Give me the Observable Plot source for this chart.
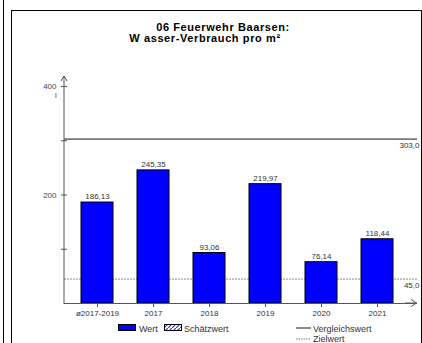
<!DOCTYPE html>
<html><head><meta charset="utf-8">
<script src="https://cdn.jsdelivr.net/npm/d3@7"></script>
<script src="https://cdn.jsdelivr.net/npm/@observablehq/plot@0.6"></script>
<style>
body{margin:0;background:#fff;font-family:"Liberation Sans",Arial,sans-serif;}
svg{display:block}
</style>
</head><body><div id="chart"></div>
<script>
const categories = ["ø2017-2019", "2017", "2018", "2019", "2020", "2021"];
const values = [186.13, 245.35, 93.06, 219.97, 76.14, 118.44];
const valueLabels = ["186,13", "245,35", "93,06", "219,97", "76,14", "118,44"];
const yTicks = [100, 200, 300, 400];
const yTickLabels = ["", "200", "", "400"];
const yUnit = "l";
const comparisonValue = 303.0;
const comparisonLabel = "303,0";
const targetValue = 45.0;
const targetLabel = "45,0";
const titleLines = ["06 Feuerwehr Baarsen:", "W asser-Verbrauch pro m²"];
const legendLabels = ["Wert", "Schätzwert", "Vergleichswert", "Zielwert"];

const data = categories.map((c, i) => ({category: c, value: values[i], label: valueLabels[i]}));
const FONT = "'Liberation Sans', Arial, sans-serif";

const plot = Plot.plot({
  width: 422, height: 343,
  marginLeft: 64, marginRight: 5, marginTop: 76, marginBottom: 40,
  style: {fontFamily: FONT, fontSize: "8px", color: "#333", background: "white", overflow: "visible"},
  x: {type: "band", domain: categories, range: [67, 406], paddingInner: 0.43, paddingOuter: 0.215, align: 0.5, label: null},
  y: {domain: [0, 400], range: [303, 86], label: null},
  marks: [
    Plot.ruleY([targetValue], {stroke: "#8a8a8a", strokeWidth: 1, strokeDasharray: "2,1"}),
    Plot.ruleY([comparisonValue], {stroke: "#777", strokeWidth: 1.6}),
    Plot.barY(data, {x: "category", y: "value", fill: "#0000FF", stroke: "#000", strokeWidth: 1}),
    Plot.text(data, {x: "category", y: "value", text: "label", dy: -6, fontSize: 8, fill: "#333"}),
    Plot.ruleY([0], {stroke: "#555", strokeWidth: 1}),
    Plot.axisX({tickSize: 4, tickPadding: 3, fontSize: 8, stroke: "#555", fill: "#333", label: null}),
    Plot.axisY({ticks: yTicks, tickSize: 6, dx: 3, tickPadding: 5, fontSize: 8, stroke: "#555", fill: "#444", label: null,
      tickFormat: d => yTickLabels[yTicks.indexOf(d)]}),
    Plot.text([comparisonLabel], {y: () => comparisonValue, text: d => d, frameAnchor: "right", textAnchor: "end", dx: 2, dy: 6, fontSize: 8, fill: "#333"}),
    Plot.text([targetLabel], {y: () => targetValue, text: d => d, frameAnchor: "right", textAnchor: "end", dx: 2, dy: 6, fontSize: 8, fill: "#333"})
  ]
});

const svg = d3.select(plot);
const y = plot.scale("y");
const y0 = y.apply(0);
const ax = 64;

// frame
const bg = svg.insert("g", ":first-child");
bg.append("line").attr("x1", 3.5).attr("x2", 3.5).attr("y1", 0).attr("y2", 343).attr("stroke", "#000");
bg.append("rect").attr("x", 11.5).attr("y", 10.5).attr("width", 410).attr("height", 340)
  .attr("fill", "none").attr("stroke", "#000");

// y axis line + arrows
const g = svg.append("g").attr("stroke", "#555").attr("fill", "none");
g.append("line").attr("x1", ax).attr("x2", ax).attr("y1", y0 + 1).attr("y2", 76);
g.append("path").attr("d", `M${ax - 3},${81} L${ax},${76} L${ax + 3},${81}`);
g.append("path").attr("d", `M${411},${y0 - 3.5} L${416.5},${y0} L${411},${y0 + 3.5}`);
g.append("line").attr("x1", 405).attr("x2", 416.5).attr("y1", y0).attr("y2", y0);

svg.append("text").attr("x", 56).attr("y", 98).attr("font-size", 8).attr("fill", "#444")
  .attr("font-family", FONT).attr("text-anchor", "middle").text(yUnit);

// title
const t = svg.append("g").attr("font-family", FONT).attr("font-weight", "bold").attr("font-size", 11)
  .attr("letter-spacing", 0.6).attr("fill", "#000").attr("text-anchor", "middle");
t.append("text").attr("x", 223).attr("y", 30.5).text(titleLines[0]);
t.append("text").attr("x", 205).attr("y", 41.5).text(titleLines[1]);

// legend
const defs = svg.append("defs");
const pat = defs.append("pattern").attr("id", "hatch").attr("patternUnits", "userSpaceOnUse")
  .attr("width", 4).attr("height", 4);
pat.append("rect").attr("width", 4).attr("height", 4).attr("fill", "#fff");
pat.append("path").attr("d", "M0,4 L4,0").attr("stroke", "#3030ff").attr("stroke-width", 1.2);

const lg = svg.append("g").attr("font-family", FONT).attr("font-size", 9).attr("fill", "#333")
  .attr("text-anchor", "start");
lg.append("rect").attr("x", 118.5).attr("y", 324.5).attr("width", 17).attr("height", 6)
  .attr("fill", "#0000FF").attr("stroke", "#000");
lg.append("text").attr("x", 139).attr("y", 331.5).text(legendLabels[0]);
lg.append("rect").attr("x", 164.5).attr("y", 324.5).attr("width", 17).attr("height", 6)
  .attr("fill", "url(#hatch)").attr("stroke", "#000");
lg.append("text").attr("x", 184).attr("y", 331.5).text(legendLabels[1]);
lg.append("line").attr("x1", 296).attr("x2", 311).attr("y1", 328).attr("y2", 328)
  .attr("stroke", "#666").attr("stroke-width", 1.5);
lg.append("text").attr("x", 313).attr("y", 331.5).text(legendLabels[2]);
lg.append("line").attr("x1", 296).attr("x2", 311).attr("y1", 339).attr("y2", 339)
  .attr("stroke", "#777").attr("stroke-width", 1).attr("stroke-dasharray", "1.5,1");
lg.append("text").attr("x", 313).attr("y", 342).text(legendLabels[3]);

document.getElementById("chart").appendChild(plot);
</script>
</body></html>
